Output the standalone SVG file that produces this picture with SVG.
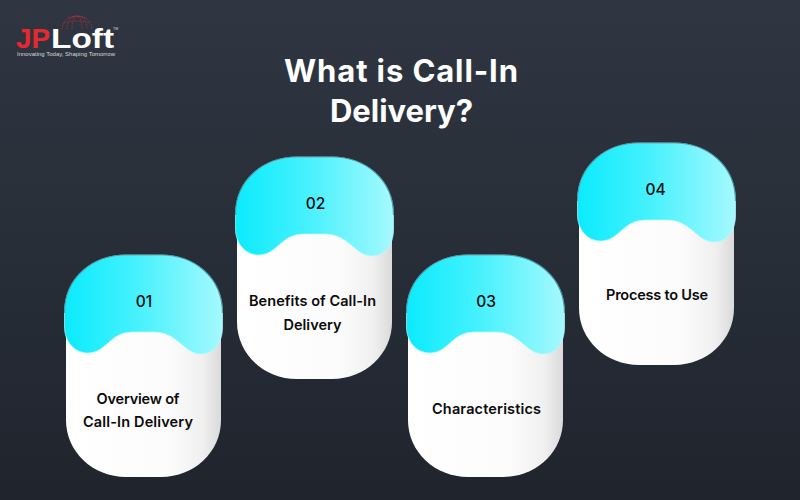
<svg xmlns="http://www.w3.org/2000/svg" width="800" height="500" viewBox="0 0 800 500">
<style>
.t{font-family:"Inter","Liberation Sans",sans-serif;fill:#0b0b0b;text-anchor:middle}
.n{font-size:15.500px;font-weight:500}
.l{font-size:14.500px;font-weight:600}
.h{font-family:"Inter","Liberation Sans",sans-serif;font-size:31px;font-weight:700;fill:#fff;text-anchor:middle}
.g{font-family:"Liberation Sans",sans-serif}
</style>
<defs>
<linearGradient id="bg" x1="0" y1="0" x2="0" y2="1"><stop offset="0" stop-color="#2f3641"/><stop offset="0.55" stop-color="#272d37"/><stop offset="1" stop-color="#1f242d"/></linearGradient>
<linearGradient id="w" x1="0" y1="0" x2="1" y2="0"><stop offset="0" stop-color="#fff"/><stop offset="0.65" stop-color="#fcfcfc"/><stop offset="0.88" stop-color="#f0f0f0"/><stop offset="1" stop-color="#dadada"/></linearGradient>
<linearGradient id="b" x1="0" y1="0" x2="1" y2="0"><stop offset="0" stop-color="#0bebfd"/><stop offset="0.45" stop-color="#45f1fd"/><stop offset="1" stop-color="#a5f9fe"/></linearGradient>
<path id="body" d="M0,60C0,25 28,0 62,0H93C127,0 155,25 155,60V165C155,197 128,222 95,222H60C27,222 0,197 0,165Z" fill="url(#w)"/>
<path id="top" d="M-1.500,58C-1.500,22 27,0 60,0H95C128,0 156.500,22 156.500,58V72C156.500,88 148,99 135,99C118,99 112,77 88,77H66C44,77 40,98 22,98C8,98 -1.500,86 -1.500,72Z" fill="url(#b)" stroke="#b5fbff" stroke-opacity="0.7" stroke-width="1"/>
<path id="rim" d="M-1.500,58C-1.500,22 27,0 60,0H95C128,0 156.500,22 156.500,58" fill="none" stroke="#3f8f9c" stroke-opacity="0.8" stroke-width="1.200"/>
</defs>
<rect width="800" height="500" fill="url(#bg)"/>
<g id="logo">
<path d="M62,29A15,13 0 0 1 92,29M67,29A10,13 0 0 1 87,29M72,29A5,13 0 0 1 82,29M64,23Q77,19 90,23M68,18Q77,15 86,18" fill="none" stroke="#a8323c" stroke-width="1" stroke-dasharray="1.200 1.200"/>
<text class="g" x="16" y="48" font-size="28" font-weight="700" fill="#e8282f" textLength="34" lengthAdjust="spacingAndGlyphs">JP</text>
<text class="g" x="51" y="48" font-size="28" font-weight="700" fill="#fff" textLength="63" lengthAdjust="spacingAndGlyphs">Loft</text>
<text class="g" x="113" y="30" font-size="3.500" fill="#ddd">TM</text>
<text class="g" x="17" y="56" font-size="5.500" fill="#d8d8d8" textLength="98" lengthAdjust="spacingAndGlyphs">Innovating Today, Shaping Tomorrow</text>
</g>
<text class="h" x="401" y="82" textLength="234" lengthAdjust="spacing">What is Call-In</text>
<text class="h" x="401.500" y="122" textLength="143" lengthAdjust="spacing">Delivery?</text>
<g id="connectors"/>
<g id="card1" transform="translate(66,255)">
<use href="#body"/><use href="#top"/><use href="#rim"/>
<text class="t n" x="78" y="51.500">01</text>
<text class="t l" x="72" y="148.500" textLength="83">Overview of</text>
<text class="t l" x="72" y="171.500" textLength="110">Call-In Delivery</text>
</g>
<g id="card2" transform="translate(237,157)">
<use href="#body"/><use href="#top"/><use href="#rim"/>
<text class="t n" x="78.500" y="51.500">02</text>
<text class="t l" x="75.500" y="148.500" textLength="127">Benefits of Call-In</text>
<text class="t l" x="75.500" y="172.500">Delivery</text>
</g>
<g id="card3" transform="translate(408,255)">
<use href="#body"/><use href="#top"/><use href="#rim"/>
<text class="t n" x="78" y="51.500">03</text>
<text class="t l" x="78.500" y="158.500" textLength="109">Characteristics</text>
</g>
<g id="card4" transform="translate(579,143)">
<use href="#body"/><use href="#top"/><use href="#rim"/>
<text class="t n" x="76.500" y="51.500">04</text>
<text class="t l" x="78" y="156.500" textLength="102">Process to Use</text>
</g>
</svg>
